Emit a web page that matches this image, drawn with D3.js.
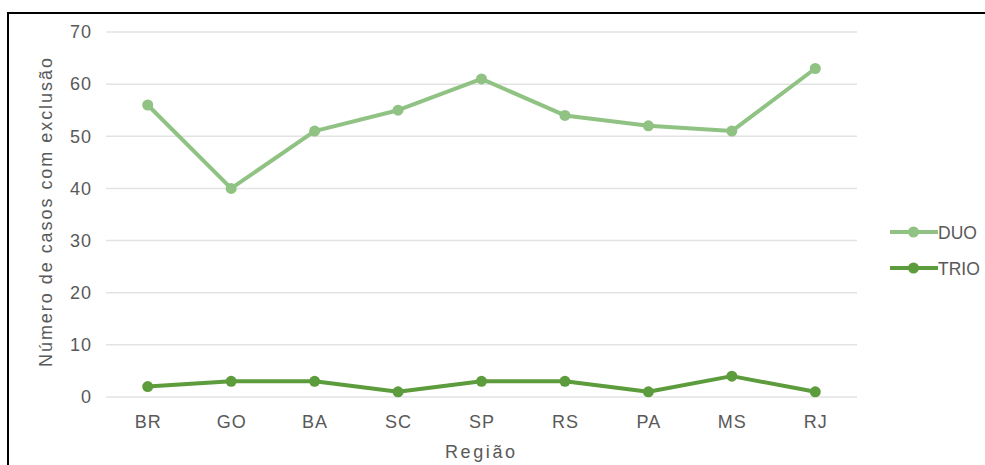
<!DOCTYPE html>
<html>
<head>
<meta charset="utf-8">
<script src="https://cdn.jsdelivr.net/npm/d3@7/dist/d3.min.js"></script>
<style>
  html, body { margin: 0; padding: 0; background: #fff; }
  svg { display: block; }
  text { font-family: "Liberation Sans", Arial, sans-serif; fill: #595959; }
</style>
</head>
<body>
<svg id="chart" width="985" height="465"></svg>
<script>
// Regions and exclusion counts per test type
const regions = ["BR", "GO", "BA", "SC", "SP", "RS", "PA", "MS", "RJ"];
const duoValues = [56, 40, 51, 55, 61, 54, 52, 51, 63];
const trioValues = [2, 3, 3, 1, 3, 3, 1, 4, 1];
const yTicks = [0, 10, 20, 30, 40, 50, 60, 70];
const seriesNames = ["DUO", "TRIO"];
const seriesColors = ["#8fc283", "#5c9c3c"];

const series = [
  { name: seriesNames[0], values: duoValues, color: seriesColors[0] },
  { name: seriesNames[1], values: trioValues, color: seriesColors[1] }
];

const svg = d3.select("#chart");

// frame around the chart area
svg.append("path")
  .attr("d", "M8,465 V13 H985")
  .attr("fill", "none")
  .attr("stroke", "#000")
  .attr("stroke-width", 2);

const plot = { left: 106, right: 857, top: 32, bottom: 397 };

const x = d3.scalePoint()
  .domain(regions)
  .range([plot.left, plot.right])
  .padding(0.5);

const y = d3.scaleLinear()
  .domain([0, 70])
  .range([plot.bottom, plot.top]);

// horizontal gridlines
svg.append("g")
  .selectAll("line")
  .data(yTicks)
  .join("line")
  .attr("x1", plot.left)
  .attr("x2", plot.right)
  .attr("y1", d => y(d))
  .attr("y2", d => y(d))
  .attr("stroke", "#e3e3e3")
  .attr("stroke-width", 1.5);

// y axis labels
const yAxis = svg.append("g")
  .attr("transform", `translate(${plot.left - 14},0)`)
  .call(d3.axisLeft(y).tickValues(yTicks).tickSize(0).tickPadding(0));
yAxis.select(".domain").remove();
yAxis.selectAll("text")
  .attr("font-size", 18)
  .attr("letter-spacing", 1)
  .attr("font-family", "Liberation Sans, Arial, sans-serif")
  .attr("fill", "#595959");

// x axis labels
const xAxis = svg.append("g")
  .attr("transform", `translate(0,${plot.bottom + 18})`)
  .call(d3.axisBottom(x).tickSize(0).tickPadding(0));
xAxis.select(".domain").remove();
xAxis.selectAll("text")
  .attr("font-size", 18)
  .attr("letter-spacing", 1)
  .attr("font-family", "Liberation Sans, Arial, sans-serif")
  .attr("fill", "#595959");

// axis titles
svg.append("text")
  .attr("x", 445)
  .attr("y", 458)
  .attr("font-size", 18)
  .attr("textLength", 70)
  .attr("lengthAdjust", "spacing")
  .text("Região");

svg.append("text")
  .attr("transform", `translate(52,367) rotate(-90)`)
  .attr("font-size", 18)
  .attr("textLength", 309)
  .attr("lengthAdjust", "spacing")
  .text("Número de casos com exclusão");

// lines and markers
const line = d3.line()
  .x((d, i) => x(regions[i]))
  .y(d => y(d));

series.forEach(s => {
  svg.append("path")
    .datum(s.values)
    .attr("d", line)
    .attr("fill", "none")
    .attr("stroke", s.color)
    .attr("stroke-width", 4)
    .attr("stroke-linejoin", "round");
  svg.append("g")
    .selectAll("circle")
    .data(s.values)
    .join("circle")
    .attr("cx", (d, i) => x(regions[i]))
    .attr("cy", d => y(d))
    .attr("r", 5.5)
    .attr("fill", s.color);
});

// legend
const legend = svg.append("g");
series.forEach((s, i) => {
  const ly = 232 + i * 36;
  legend.append("line")
    .attr("x1", 890).attr("x2", 938)
    .attr("y1", ly).attr("y2", ly)
    .attr("stroke", s.color)
    .attr("stroke-width", 4);
  legend.append("circle")
    .attr("cx", 913.5).attr("cy", ly).attr("r", 5.5)
    .attr("fill", s.color);
  legend.append("text")
    .attr("x", 938).attr("y", ly + 6.5)
    .attr("font-size", 17.5)
    .text(s.name);
});
</script>
</body>
</html>
